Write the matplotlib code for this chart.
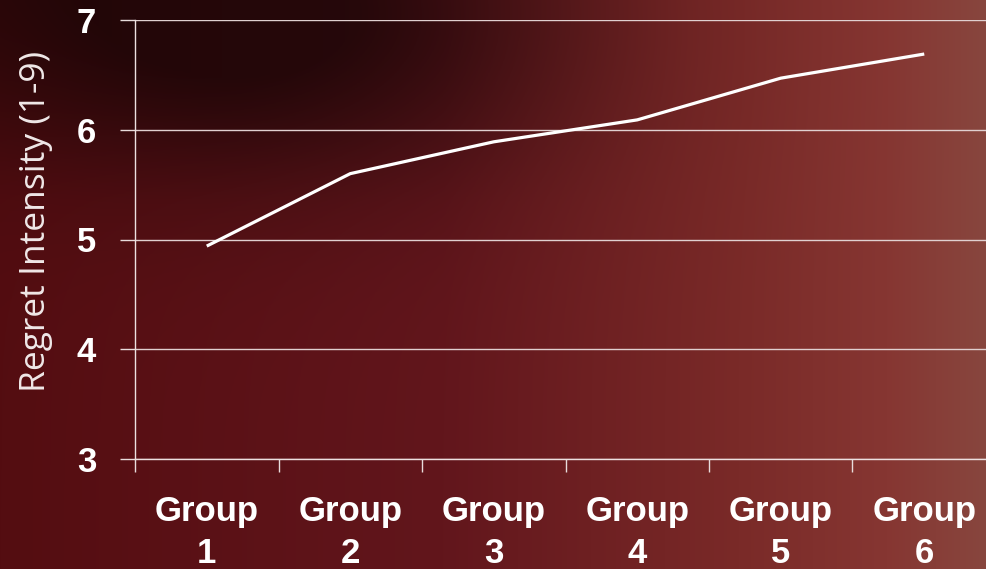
import numpy as np
import matplotlib
matplotlib.use("Agg")
import matplotlib.pyplot as plt
from matplotlib.ticker import FixedLocator

categories = ["Group\n1", "Group\n2", "Group\n3", "Group\n4", "Group\n5", "Group\n6"]
regret = [4.94, 5.60, 5.89, 6.09, 6.47, 6.69]
y_ticks = [3, 4, 5, 6, 7]
y_label = "Regret Intensity (1-9)"

W, H = 986, 569
fig = plt.figure(figsize=(W / 100, H / 100), dpi=100)

# background gradient (decorative)
bg_ax = fig.add_axes([0, 0, 1, 1])
bg_ax.set_axis_off()
xs = np.linspace(0, 1, 400)
ys = np.linspace(0, 1, 240)
X, Y = np.meshgrid(xs, ys)
stops = np.array([0, 0.45, 0.75, 0.9, 1.0])
cols = np.array([(84, 13, 17), (98, 22, 28), (122, 42, 40), (134, 54, 50), (136, 70, 62)]) / 255.0
img = np.zeros(X.shape + (3,))
for c in range(3):
    img[..., c] = np.interp(X, stops, cols[:, c])
dark = 0.55 * np.exp(-(((X - 0.26) / 0.30) ** 2 + ((Y - 0.05) / 0.28) ** 2))
dark += 0.25 * np.clip(1 - Y / 0.35, 0, 1) * np.clip(1 - X / 0.7, 0, 1)
img = img * (1 - np.clip(dark, 0, 0.6))[..., None]
bg_ax.imshow(img, extent=[0, 1, 0, 1], aspect="auto", origin="upper")

ax = fig.add_axes([135 / W, 1 - 459 / H, 861 / W, 439 / H])
ax.patch.set_alpha(0)
x = np.arange(len(categories))
ax.plot(x, regret, color="white", lw=2.3, solid_capstyle="butt")
ax.set_xlim(-0.5, len(categories) - 0.5)
ax.set_ylim(3, 7)
ax.set_yticks(y_ticks)
ax.set_yticklabels([str(v) for v in y_ticks])
ax.set_xticks(x)
ax.set_xticklabels(categories)
ax.xaxis.set_minor_locator(FixedLocator(np.arange(-0.5, len(categories), 1.0)))
ax.tick_params(axis="x", which="major", length=0, pad=26, colors="white")
ax.tick_params(axis="x", which="minor", length=9, width=1, color="#e8dcdc", direction="out")
ax.tick_params(axis="y", length=11, width=1, color="#e8dcdc", pad=17)
for lbl in ax.get_xticklabels() + ax.get_yticklabels():
    lbl.set_fontfamily("Liberation Sans")
    lbl.set_fontweight("bold")
    lbl.set_fontsize(25)
    lbl.set_color("white")
for lbl in ax.get_xticklabels():
    lbl.set_linespacing(1.33)
ax.grid(axis="y", color="#e0d0d0", lw=1)
ax.set_axisbelow(True)
for s in ["top", "right"]:
    ax.spines[s].set_visible(False)
for s in ["left", "bottom"]:
    ax.spines[s].set_color("#ece0e0")
    ax.spines[s].set_linewidth(1)
ax.set_ylabel(y_label, family="Open Sans", fontsize=25.5, color="#f0e8e8")
ax.yaxis.set_label_coords((53 - 135) / 861, (459 - 221) / 439)

fig.savefig("out.png", dpi=100)
